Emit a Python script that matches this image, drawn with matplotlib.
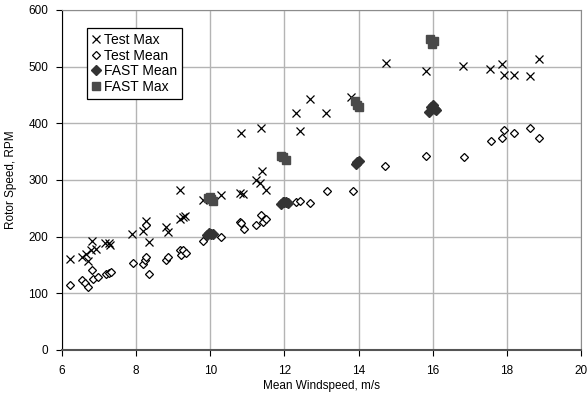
import matplotlib.pyplot as plt

plt.rcParams["font.family"] = ["Liberation Sans", "DejaVu Sans"]

# ── Data ────────────────────────────────────────────────────────────────────
test_max_x = [6.21, 6.55, 6.66, 6.70, 6.79, 6.81, 6.93, 7.15, 7.27, 7.30, 7.90,
              8.18, 8.26, 8.36, 8.81, 8.86, 9.17, 9.19, 9.26, 9.33, 9.80, 10.28,
              10.79, 10.88, 10.84, 11.24, 11.35, 11.37, 11.40, 11.49, 12.32, 12.41,
              12.68, 13.13, 13.80, 14.74, 15.82, 16.83, 17.55, 17.87, 17.91, 18.18,
              18.63, 18.88]
test_max_y = [160, 165, 170, 157, 176, 193, 179, 188, 188, 185, 204,
              210, 227, 190, 217, 208, 232, 282, 235, 236, 265, 273,
              277, 276, 383, 300, 295, 392, 316, 283, 418, 386,
              443, 418, 446, 506, 492, 502, 496, 505, 486, 486,
              484, 514]

test_mean_x = [6.21, 6.55, 6.63, 6.70, 6.82, 6.84, 6.97, 7.18, 7.28, 7.31, 7.91,
               8.18, 8.23, 8.27, 8.26, 8.36, 8.81, 8.86, 9.17, 9.22, 9.26, 9.35,
               9.80, 10.29, 10.79, 10.83, 10.90, 11.24, 11.37, 11.42, 11.49, 12.32,
               12.41, 12.69, 13.14, 13.84, 14.72, 15.82, 16.84, 17.56, 17.87, 17.91,
               18.18, 18.63, 18.87]
test_mean_y = [114, 123, 119, 112, 141, 126, 129, 135, 136, 138, 154,
               152, 158, 165, 220, 134, 158, 165, 177, 167, 176, 171,
               192, 199, 226, 224, 214, 220, 238, 226, 232, 261,
               263, 260, 280, 280, 324, 342, 340, 369, 375, 388,
               383, 391, 375]

fast_mean_x = [9.92, 9.97, 10.02, 10.07, 11.90, 11.95, 12.00, 12.05, 12.10,
               13.92, 13.97, 14.02, 15.90, 15.95, 16.00, 16.05, 16.10]
fast_mean_y = [203, 206, 205, 204, 258, 261, 262, 261, 260,
               329, 332, 333, 420, 428, 433, 426, 423]

fast_max_x = [9.93, 9.98, 10.03, 10.07, 11.92, 11.97, 12.03,
              13.90, 13.95, 14.00, 15.93, 15.98, 16.03]
fast_max_y = [268, 270, 266, 263, 343, 340, 336,
              440, 432, 428, 548, 540, 545]

# ── Chart ───────────────────────────────────────────────────────────────────
fig = plt.figure(figsize=(5.87, 3.96), dpi=100)
ax = fig.add_axes([62 / 587, 46 / 396, 519 / 587, 340 / 396])

ax.plot(test_max_x, test_max_y, "x", color="black", ms=5.5, mew=0.9, label="Test Max")
ax.plot(test_mean_x, test_mean_y, "D", mfc="white", mec="black", ms=4, mew=0.9,
        label="Test Mean")
ax.plot(fast_mean_x, fast_mean_y, "D", color="#333333", ms=5, label="FAST Mean")
ax.plot(fast_max_x, fast_max_y, "s", color="#4a4a4a", ms=6, label="FAST Max")

ax.set_xlim(6, 20)
ax.set_ylim(0, 600)
ax.set_xticks(range(6, 21, 2))
ax.set_yticks(range(0, 601, 100))
ax.grid(True, color="#b4b4b4", linewidth=1)
ax.set_axisbelow(True)
for side in ["top", "right"]:
    ax.spines[side].set_color("#8c8c8c")
ax.spines["left"].set_color("black")
ax.spines["bottom"].set_color("#555555")
ax.spines["bottom"].set_linewidth(1.5)
ax.tick_params(axis="x", direction="out", length=4, labelsize=8.5, pad=7)
ax.tick_params(axis="y", direction="out", length=4, labelsize=8.5, pad=6)
ax.set_xlabel("Mean Windspeed, m/s", fontsize=8.5, labelpad=2)
ax.set_ylabel("Rotor Speed, RPM", fontsize=8.5, labelpad=8)

leg = ax.legend(loc="upper left", bbox_to_anchor=(0.048, 0.947), fontsize=10,
                frameon=True, fancybox=False, edgecolor="black", framealpha=1,
                handlelength=0.6, handletextpad=0.25, borderpad=0.35,
                labelspacing=0.12, borderaxespad=0)
leg.get_frame().set_linewidth(0.9)

plt.savefig("out.png")
plt.close()
